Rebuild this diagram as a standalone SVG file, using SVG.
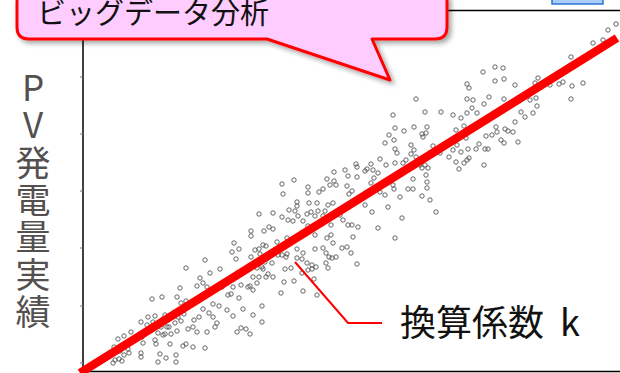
<svg xmlns="http://www.w3.org/2000/svg" width="620" height="373" viewBox="0 0 620 373">
<style>
.jp{font-family:"Noto Sans CJK JP","Noto Sans",sans-serif}
.axis{stroke:#000;stroke-width:1.5;fill:none}
.tick{stroke:#777;stroke-width:1}
.vert{writing-mode:vertical-rl;text-orientation:upright;letter-spacing:2.4px}
</style>
<defs>
<marker id="pt" markerWidth="8" markerHeight="8" refX="4" refY="4" markerUnits="userSpaceOnUse">
<circle cx="4" cy="4" r="2.2" fill="none" stroke="#555" stroke-width="0.9"/>
</marker>
<filter id="sh" x="-10%" y="-30%" width="130%" height="170%">
<feDropShadow dx="3" dy="3" stdDeviation="2.5" flood-color="#000" flood-opacity="0.35"/>
</filter>
</defs>
<rect width="620" height="373" fill="#fff"/>
<g id="legend-box"><rect x="552" y="-5" width="51" height="9" fill="#aaccf8" stroke="#2e74d6" stroke-width="1.5"/></g>
<g id="plot-frame">
<line class="axis" x1="83" y1="10.5" x2="620" y2="10.5"/>
<line class="axis" x1="83" y1="10" x2="83" y2="372"/>
<line class="axis" x1="83" y1="371.5" x2="620" y2="371.5"/>
<path class="tick" d="M80 77H83M80 134H83M80 191H83M80 248H83M80 306H83M80 363H83"/>
</g>
<g id="scatter">
<polyline fill="none" stroke="none" marker-start="url(#pt)" marker-mid="url(#pt)" marker-end="url(#pt)" points="616,24 608,30 603,40 593,43 571,57 495,67 503,68 483,72 495,81 504,79 467,84 469,88 515,85 538,78 535,83 550,85 559,84 563,82 572,86 583,83 571,99 467,99 473,100 489,97 484,104 504,99 530,100 536,98 537,106 472,108 467,113 441,112 425,112 453,115 461,118 477,113 521,112 525,117 533,113 515,122 456,130 464,126 496,127 505,129 508,131 513,132 497,132 492,135 486,136 518,142 501,140 504,143 466,138 479,144 433,146 427,127 426,133 423,137 422,134 457,145 453,150 468,149 476,149 485,149 488,149 449,157 461,152 469,158 467,160 464,163 456,162 459,169 484,165 440,153 425,165 428,168 422,168 426,175 427,182 427,188 416,99 393,115 404,131 395,128 414,127 389,135 394,140 385,143 395,149 397,153 411,145 414,150 411,154 380,159 386,165 395,163 406,160 403,163 416,157 420,165 413,179 422,196 400,197 408,189 413,189 393,185 394,189 385,195 380,192 371,164 367,169 373,170 378,173 374,178 371,183 365,171 357,167 356,164 357,177 345,170 348,176 334,172 327,179 334,181 336,185 330,185 323,189 319,192 308,187 308,193 294,180 347,186 352,191 349,194 283,194 282,184 297,202 309,203 317,203 333,203 328,205 259,214 273,213 282,217 289,210 295,211 297,206 288,220 293,221 298,216 303,221 307,214 311,212 315,216 318,211 323,216 325,211 340,215 343,220 348,225 352,225 358,227 353,237 331,225 331,235 327,238 315,235 308,226 269,227 273,229 264,231 251,231 251,236 277,242 266,246 287,238 259,249 255,250 263,245 234,243 239,249 232,252 236,259 251,257 260,254 268,258 272,263 265,262 263,269 268,274 273,277 266,277 259,277 257,283 253,277 257,268 262,267 278,255 286,257 287,254 285,269 291,268 297,249 303,253 315,249 323,248 329,257 332,258 336,257 326,263 328,268 316,267 312,265 307,263 302,259 314,279 294,281 284,282 281,293 303,291 317,295 250,286 253,290 248,287 241,285 233,287 239,298 231,294 228,295 220,269 210,273 205,260 200,278 203,283 186,268 180,288 177,297 162,297 282,255 297,258 326,253 333,243 342,248 347,247 351,253 357,264 312,269 302,273 308,270 197,286 207,287 214,288 222,287 152,299 181,303 186,301 243,309 253,315 262,306 262,322 213,304 219,306 227,310 233,316 237,332 250,334 246,329 241,328 215,327 217,323 213,317 209,313 203,309 199,317 194,320 193,327 197,332 188,329 184,314 181,321 178,317 175,323 177,331 169,327 171,334 161,327 163,335 158,333 155,340 147,325 141,322 148,317 155,316 142,337 143,343 131,332 124,336 118,339 114,347 120,351 124,355 128,349 129,353 141,353 141,357 158,362 166,358 176,355 176,362 160,354 170,344 183,346 186,344 193,347 205,348 207,332 165,334 156,344 119,359 122,361 115,360 113,363 153,322 179,313 168,317 172,315 165,315 163,319 167,327 365,205 372,212 388,207 402,218 378,228 395,238 430,200 436,212"/>
</g>
<g id="regression-line"><line x1="80" y1="373" x2="617" y2="38" stroke="#ff0000" stroke-width="8.5"/></g>
<g id="callout">
<path d="M29 -10H435Q447 -10 447 2V27Q447 39 435 39H372L390 80L267 39H29Q17 39 17 27V2Q17 -10 29 -10Z" fill="#ffccff" stroke="#ff0000" stroke-width="3" stroke-linejoin="round" filter="url(#sh)"/>
<text class="jp" x="37" y="24" font-size="29" fill="#111">ビッグデータ分析</text>
</g>
<g id="connectors"><polyline points="295,262 348,323 382,323" fill="none" stroke="#ff0000" stroke-width="2"/></g>
<g id="label-k"><text class="jp" x="400" y="336" font-size="36" fill="#111">換算係数<tspan dx="16">k</tspan></text></g>
<g id="y-label"><text class="jp vert" x="33" y="70" font-size="35" fill="#555050">PV発電量実績</text></g>
</svg>
